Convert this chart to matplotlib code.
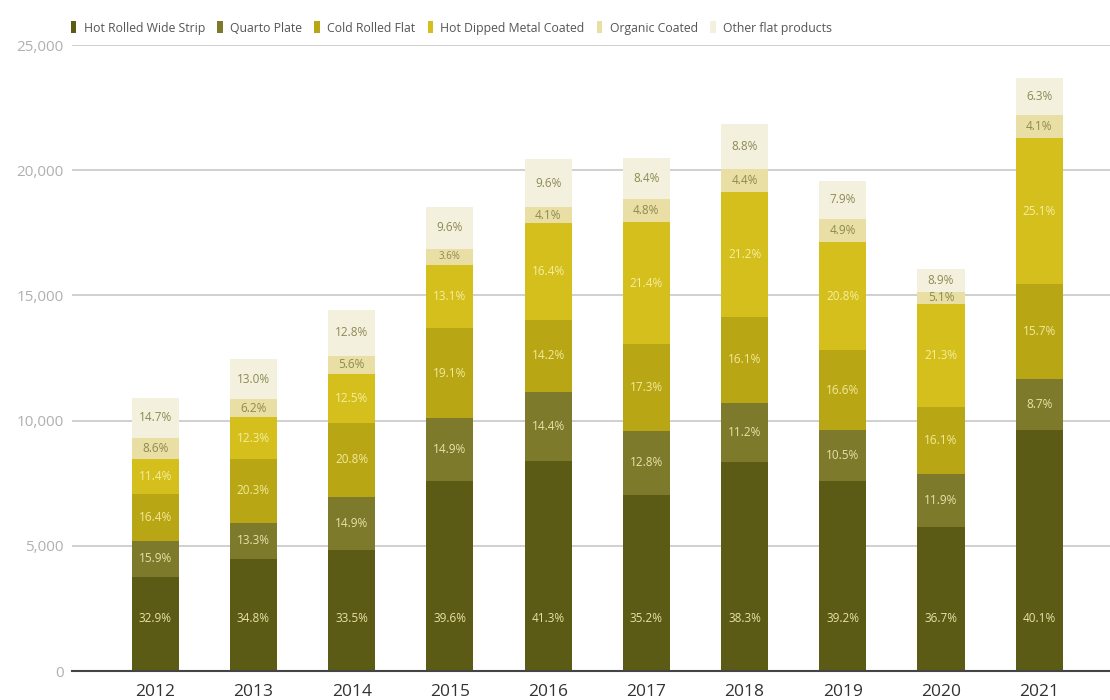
import matplotlib
matplotlib.use("AGG")
import numpy as np
import matplotlib.pyplot as plt
from matplotlib.patches import Patch

plt.rcParams['font.family'] = ['Open Sans', 'DejaVu Sans']

years = ['2012', '2013', '2014', '2015', '2016', '2017', '2018', '2019', '2020', '2021']

products = ['Hot Rolled Wide Strip', 'Quarto Plate', 'Cold Rolled Flat',
            'Hot Dipped Metal Coated', 'Organic Coated', 'Other flat products']

# segment sizes (thousand tonnes)
hot_rolled = [3770, 4470, 4850, 7570, 8380, 7020, 8350, 7570, 5770, 9630]
quarto = [1430, 1450, 2110, 2520, 2770, 2580, 2360, 2060, 2090, 2030]
cold_rolled = [1880, 2540, 2940, 3610, 2880, 3440, 3440, 3180, 2690, 3800]
hot_dipped = [1400, 1670, 1960, 2510, 3860, 4900, 4970, 4310, 4120, 5810]
organic = [810, 730, 730, 650, 630, 910, 910, 950, 480, 950]
other = [1630, 1600, 1830, 1670, 1920, 1640, 1820, 1510, 920, 1470]

# share labels printed on the bars
hot_rolled_pct = [32.9, 34.8, 33.5, 39.6, 41.3, 35.2, 38.3, 39.2, 36.7, 40.1]
quarto_pct = [15.9, 13.3, 14.9, 14.9, 14.4, 12.8, 11.2, 10.5, 11.9, 8.7]
cold_rolled_pct = [16.4, 20.3, 20.8, 19.1, 14.2, 17.3, 16.1, 16.6, 16.1, 15.7]
hot_dipped_pct = [11.4, 12.3, 12.5, 13.1, 16.4, 21.4, 21.2, 20.8, 21.3, 25.1]
organic_pct = [8.6, 6.2, 5.6, 3.6, 4.1, 4.8, 4.4, 4.9, 5.1, 4.1]
other_pct = [14.7, 13.0, 12.8, 9.6, 9.6, 8.4, 8.8, 7.9, 8.9, 6.3]

series = [hot_rolled, quarto, cold_rolled, hot_dipped, organic, other]
shares = [hot_rolled_pct, quarto_pct, cold_rolled_pct, hot_dipped_pct, organic_pct, other_pct]
colors = ['#5c5b16', '#7d7a2c', '#b9a615', '#d5bf1c', '#e9dea4', '#f4f0de']
text_colors = ['#e9e2a8', '#e9e2a8', '#f3ea9a', '#f6ee9e', '#8c8a52', '#8c8a52']

fig = plt.figure(figsize=(11.1, 7.0), dpi=100)
ax = fig.add_axes([0.065, 0.0414, 0.935, 0.8943])

x = np.arange(len(years))
bottom = np.zeros(len(years))
for i, (vals, pct, col, tcol) in enumerate(zip(series, shares, colors, text_colors)):
    vals = np.array(vals, dtype=float)
    ax.bar(x, vals, 0.48, bottom=bottom, color=col, zorder=3)
    for xi, b, v, p in zip(x, bottom, vals, pct):
        # bottom labels sit at a fixed height, the rest are centred
        ypos = 2100 if i == 0 else b + v / 2
        fs = 7 if p < 4 else 8.5
        ax.text(xi, ypos, f'{p:.1f}%', ha='center', va='center',
                fontsize=fs, color=tcol, zorder=4)
    bottom += vals

ax.set_xlim(-0.845, 9.72)
ax.set_ylim(0, 25000)
ax.set_yticks(np.arange(0, 25001, 5000))
ax.set_yticklabels([f'{v:,}' for v in range(0, 25001, 5000)])
ax.yaxis.grid(True, color='#c8c8c8', linewidth=1.2, zorder=0)
ax.set_xticks(x)
ax.set_xticklabels(years)
ax.tick_params(axis='y', length=0, pad=6, labelsize=11, labelcolor='#b0b0b0')
ax.tick_params(axis='x', length=0, pad=9, labelsize=12.5, labelcolor='#333333')
for s in ['top', 'right', 'left']:
    ax.spines[s].set_visible(False)
ax.spines['bottom'].set_color('#444444')
ax.spines['bottom'].set_linewidth(1.5)
ax.spines['bottom'].set_zorder(5)

handles = [Patch(facecolor=c, edgecolor='none') for c in colors]
fig.legend(handles, products, loc='upper left', bbox_to_anchor=(0.054, 0.985),
           ncol=6, frameon=False, fontsize=8.8, handlelength=0.45, handleheight=1.1,
           handletextpad=0.6, columnspacing=1.0, labelcolor='#555555')

fig.savefig('out.png', dpi=100)
